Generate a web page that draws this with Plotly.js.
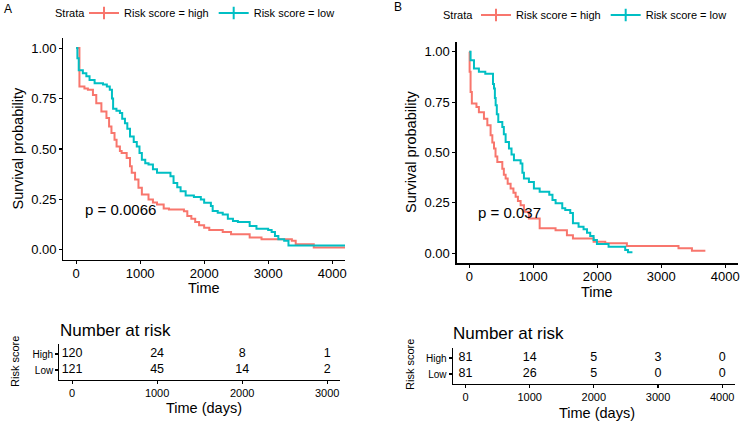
<!DOCTYPE html>
<html>
<head>
<meta charset="utf-8">
<script src="https://cdn.plot.ly/plotly-3.0.1.min.js"></script>
<style>html,body{margin:0;padding:0;background:#fff;}#chart{width:740px;height:422px;}</style>
</head>
<body>
<div id="chart"></div>
<script>
// ---------- Data ----------
// Panel A: Kaplan-Meier curves
const timeA_high = [0, 52, 130, 184, 263, 315, 395, 474, 515, 552, 600, 632, 684, 711, 790, 842, 869, 921, 974, 1027, 1131, 1200, 1264, 1368, 1450, 1684, 1737, 1800, 1860, 1921, 2000, 2080, 2290, 2420, 2711, 2896, 3370, 3430, 3712, 4200];
const survA_high = [1.0, 0.81, 0.80, 0.793, 0.768, 0.727, 0.686, 0.653, 0.612, 0.579, 0.546, 0.513, 0.49, 0.48, 0.456, 0.414, 0.382, 0.349, 0.308, 0.275, 0.25, 0.235, 0.225, 0.205, 0.2, 0.192, 0.168, 0.155, 0.138, 0.122, 0.11, 0.099, 0.089, 0.077, 0.061, 0.053, 0.045, 0.028, 0.012, 0.012];
const timeA_low = [0, 20, 41, 105, 160, 210, 289, 420, 480, 526, 560, 578, 630, 684, 720, 763, 800, 842, 900, 948, 990, 1027, 1080, 1131, 1200, 1264, 1474, 1522, 1580, 1632, 1711, 1840, 1948, 2000, 2105, 2133, 2212, 2290, 2370, 2450, 2527, 2711, 2817, 3000, 3054, 3106, 3159, 3250, 3317, 4200];
const survA_low = [1.0, 0.95, 0.89, 0.875, 0.86, 0.842, 0.826, 0.82, 0.81, 0.793, 0.75, 0.70, 0.69, 0.678, 0.65, 0.628, 0.6, 0.562, 0.535, 0.513, 0.48, 0.447, 0.43, 0.423, 0.40, 0.382, 0.365, 0.332, 0.31, 0.291, 0.27, 0.262, 0.25, 0.234, 0.217, 0.193, 0.184, 0.176, 0.155, 0.143, 0.138, 0.118, 0.105, 0.099, 0.089, 0.069, 0.053, 0.045, 0.022, 0.022];

// Panel B: Kaplan-Meier curves
const timeB_high = [0, 5, 20, 40, 112, 150, 229, 282, 333, 360, 386, 410, 438, 516, 540, 568, 600, 646, 690, 724, 760, 802, 854, 932, 1100, 1348, 1526, 1620, 1943, 2125, 2463, 3270, 3480, 3690];
const survB_high = [1.0, 0.9, 0.8, 0.743, 0.726, 0.70, 0.668, 0.635, 0.586, 0.55, 0.52, 0.48, 0.453, 0.42, 0.39, 0.371, 0.345, 0.322, 0.30, 0.28, 0.26, 0.239, 0.206, 0.173, 0.124, 0.115, 0.09, 0.074, 0.057, 0.05, 0.036, 0.025, 0.013, 0.013];
const timeB_low = [0, 20, 73, 150, 250, 349, 370, 386, 400, 412, 430, 453, 516, 540, 568, 620, 660, 698, 802, 830, 854, 932, 1010, 1100, 1250, 1300, 1349, 1453, 1500, 1578, 1620, 1708, 1786, 1840, 1890, 1943, 1995, 2177, 2437, 2480, 2550];
const survB_low = [1.0, 0.957, 0.916, 0.9, 0.89, 0.89, 0.84, 0.817, 0.77, 0.734, 0.69, 0.651, 0.627, 0.59, 0.552, 0.52, 0.49, 0.462, 0.446, 0.40, 0.371, 0.354, 0.322, 0.305, 0.29, 0.265, 0.248, 0.223, 0.215, 0.2, 0.149, 0.132, 0.119, 0.102, 0.086, 0.066, 0.046, 0.033, 0.016, 0.005, 0.005];

// Risk tables
const riskTimesA = [0, 1000, 2000, 3000];
const riskA_high = [120, 24, 8, 1];
const riskA_low = [121, 45, 14, 2];
const riskTimesB = [0, 1000, 2000, 3000, 4000];
const riskB_high = [81, 14, 5, 3, 0];
const riskB_low = [81, 26, 5, 0, 0];
const riskRows = ['Low', 'High'];

const seriesNames = ['Risk score = high', 'Risk score = low'];
const legendTitle = 'Strata';
const pvalA = 'p = 0.0066';
const pvalB = 'p = 0.037';

// ---------- Styling ----------
const RED = '#F8766D', TEAL = '#00BFC4';
const FONT = 'Liberation Sans, Arial, Helvetica, sans-serif';
const W = 740, H = 422;
const px = v => v / W;
const py = v => 1 - v / H;

function curve(x, y, color, xa, ya) {
  return {x: x, y: y, type: 'scatter', mode: 'lines', line: {shape: 'hv', color: color, width: 2},
    xaxis: xa, yaxis: ya, showlegend: false, hoverinfo: 'skip'};
}
function legendItem(name, color, xa, ya, leg) {
  return {x: [null], y: [null], type: 'scatter', mode: 'lines+markers', name: name,
    line: {color: color, width: 2},
    marker: {symbol: 'cross-thin', size: 9, color: color, line: {color: color, width: 2}},
    xaxis: xa, yaxis: ya, legend: leg, showlegend: true};
}
function riskText(times, counts, row, xa, ya) {
  return {x: times, y: times.map(() => row), text: counts.map(String), type: 'scatter', mode: 'text',
    textposition: 'middle center', textfont: {family: FONT, size: 12.5, color: '#000'},
    xaxis: xa, yaxis: ya, showlegend: false, hoverinfo: 'skip'};
}

const traces = [
  curve(timeA_high, survA_high, RED, 'x', 'y'),
  curve(timeA_low, survA_low, TEAL, 'x', 'y'),
  curve(timeB_high, survB_high, RED, 'x2', 'y2'),
  curve(timeB_low, survB_low, TEAL, 'x2', 'y2'),
  legendItem(seriesNames[0], RED, 'x', 'y', 'legend'),
  legendItem(seriesNames[1], TEAL, 'x', 'y', 'legend'),
  legendItem(seriesNames[0], RED, 'x2', 'y2', 'legend2'),
  legendItem(seriesNames[1], TEAL, 'x2', 'y2', 'legend2'),
  riskText(riskTimesA, riskA_high, 'High', 'x3', 'y3'),
  riskText(riskTimesA, riskA_low, 'Low', 'x3', 'y3'),
  riskText(riskTimesB, riskB_high, 'High', 'x4', 'y4'),
  riskText(riskTimesB, riskB_low, 'Low', 'x4', 'y4')
];

const axisBase = {showline: true, linecolor: '#000', linewidth: 1.1, ticks: 'outside', ticklen: 3,
  tickcolor: '#000', tickwidth: 1.1, showgrid: false, zeroline: false, fixedrange: true,
  ticklabeloverflow: 'allow', tickfont: {family: FONT, size: 13, color: '#000'}};
const surv = [0, 0.25, 0.5, 0.75, 1];

function note(text, x, y, size, opts) {
  return Object.assign({text: text, xref: 'paper', yref: 'paper', x: px(x), y: py(y), xanchor: 'center', yanchor: 'middle',
    showarrow: false, font: {family: FONT, size: size, color: '#000'}}, opts || {});
}
const legendBase = {orientation: 'h', xanchor: 'left', yanchor: 'middle', bgcolor: 'rgba(0,0,0,0)', borderwidth: 0,
  font: {family: FONT, size: 11, color: '#000'}, itemclick: false, itemdoubleclick: false};

const layout = {
  width: W, height: H, margin: {l: 0, r: 0, t: 0, b: 0, autoexpand: false},
  paper_bgcolor: '#fff', plot_bgcolor: '#fff',
  font: {family: FONT, color: '#000'},
  xaxis: Object.assign({}, axisBase, {domain: [px(63.3), px(345)], range: [-200, 4200], tickvals: [0, 1000, 2000, 3000, 4000], anchor: 'y', ticklabelstandoff: -2}),
  yaxis: Object.assign({}, axisBase, {domain: [py(260), py(38)], range: [-0.05, 1.05], tickvals: surv, tickformat: '.2f', anchor: 'x'}),
  xaxis2: Object.assign({}, axisBase, {domain: [px(456.5), px(738)], range: [-200, 4200], tickvals: [0, 1000, 2000, 3000, 4000], anchor: 'y2', ticklabelstandoff: -2}),
  yaxis2: Object.assign({}, axisBase, {domain: [py(263.4), py(41.6)], range: [-0.05, 1.05], tickvals: surv, tickformat: '.2f', anchor: 'x2'}),
  xaxis3: Object.assign({}, axisBase, {domain: [px(59.3), px(340)], range: [-150, 3150], tickvals: riskTimesA, anchor: 'y3', tickfont: {family: FONT, size: 11, color: '#000'}}),
  yaxis3: Object.assign({}, axisBase, {domain: [py(379.6), py(344.4)], type: 'category', categoryorder: 'array', categoryarray: riskRows, range: [-0.6, 1.6], anchor: 'x3', tickfont: {family: FONT, size: 10, color: '#000'}}),
  xaxis4: Object.assign({}, axisBase, {domain: [px(452.7), px(735)], range: [-200, 4200], tickvals: riskTimesB, anchor: 'y4', tickfont: {family: FONT, size: 11, color: '#000'}}),
  yaxis4: Object.assign({}, axisBase, {domain: [py(383.6), py(348.4)], type: 'category', categoryorder: 'array', categoryarray: riskRows, range: [-0.6, 1.6], anchor: 'x4', tickfont: {family: FONT, size: 10, color: '#000'}}),
  legend: Object.assign({}, legendBase, {x: px(84), y: py(13)}),
  legend2: Object.assign({}, legendBase, {x: px(476), y: py(15)}),
  annotations: [
    note('A', 2, 9, 12, {xanchor: 'left'}),
    note('B', 392, 7, 12, {xanchor: 'left'}),
    note(legendTitle, 53, 13, 11, {xanchor: 'left'}),
    note(legendTitle, 441, 15, 11, {xanchor: 'left'}),
    note('Survival probability', 17.5, 149, 14.5, {textangle: -90}),
    note('Survival probability', 411, 152, 14.5, {textangle: -90}),
    note('Time', 204, 288, 14.5),
    note('Time', 597, 292, 14.5),
    {text: pvalA, xref: 'x', yref: 'y', x: 100, y: 0.2, xanchor: 'left', yanchor: 'middle', showarrow: false, font: {family: FONT, size: 15, color: '#000'}},
    {text: pvalB, xref: 'x2', yref: 'y2', x: 100, y: 0.2, xanchor: 'left', yanchor: 'middle', showarrow: false, font: {family: FONT, size: 15, color: '#000'}},
    note('Number at risk', 58, 330, 17, {xanchor: 'left'}),
    note('Number at risk', 451, 333, 17, {xanchor: 'left'}),
    note('Risk score', 15, 362, 11, {textangle: -90}),
    note('Risk score', 410, 365, 11, {textangle: -90}),
    note('Time (days)', 204, 408, 14.5),
    note('Time (days)', 597, 413, 14.5)
  ]
};

Plotly.newPlot('chart', traces, layout, {staticPlot: true, displayModeBar: false});
</script>
</body>
</html>
